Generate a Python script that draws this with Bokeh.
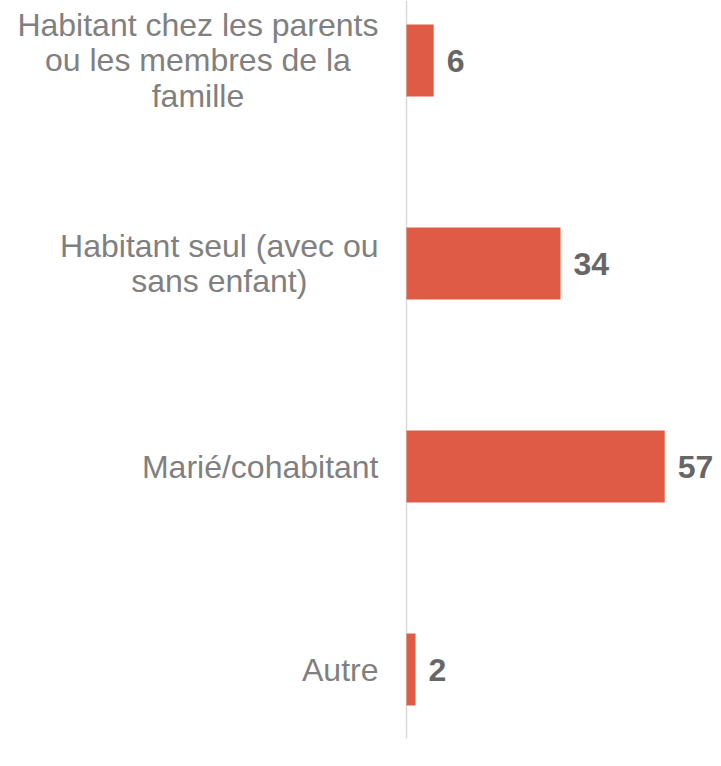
from bokeh.plotting import figure
from bokeh.models import ColumnDataSource, Range1d
from bokeh.core.properties import value
from bokeh.embed import file_html
from bokeh.resources import INLINE

categories = [
    "Habitant chez les parents\nou les membres de la\nfamille",
    "Habitant seul (avec ou\nsans enfant)",
    "Marié/cohabitant",
    "Autre",
]
values = [6, 34, 57, 2]

pos = list(range(len(categories)))
src = ColumnDataSource(dict(
    y=pos,
    v=values,
    cat=categories,
    lbl=[str(v) for v in values],
    zero=[0] * len(values),
))

W, H = 713, 758
k = 4.53          # px per unit
x0_px = 406       # zero position in frame
band = 203.0
top_px = 60.0

p = figure(width=W, height=H, output_backend="svg", toolbar_location=None,
           min_border=0, min_border_left=0, min_border_right=0,
           min_border_top=0, min_border_bottom=0,
           x_range=Range1d(-x0_px / k, (W - x0_px) / k),
           y_range=Range1d((H - top_px) / band, -top_px / band))
p.axis.visible = False
p.grid.visible = False
p.outline_line_color = None
p.background_fill_color = "white"

# vertical axis line
p.segment(x0=[0], y0=[-top_px / band], x1=[0], y1=[(738 - top_px) / band],
          line_color="#d9d9d9", line_width=1.5)

p.hbar(y="y", left=0, right="v", height=72 / band, source=src,
       fill_color="#E05B45", line_color=None)

p.text(x="zero", y="y", text="cat", source=src, x_offset=-28,
       anchor=value("center_right"), text_align="center",
       text_baseline="middle", text_line_height=0.98,
       text_font=value("Liberation Sans"), text_font_size="32px",
       text_color="#808080")

p.text(x="v", y="y", text="lbl", source=src, x_offset=13,
       text_align="left", text_baseline="middle",
       text_font=value("Liberation Sans"), text_font_size="32px",
       text_font_style="bold", text_color="#666666")

open("out.html", "w").write(file_html(p, INLINE))
